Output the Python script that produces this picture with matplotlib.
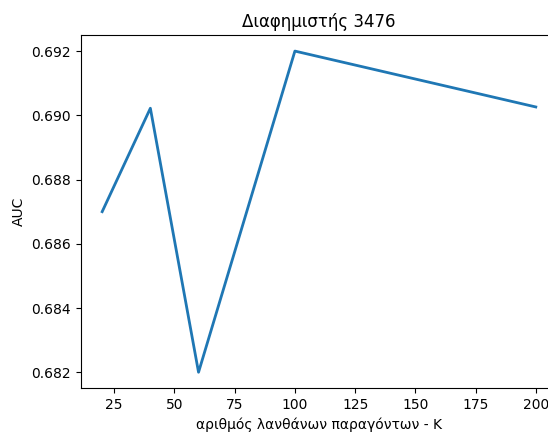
import matplotlib
matplotlib.use('Agg')
import matplotlib.pyplot as plt

k_values = [20, 40, 60, 100, 200]
auc_values = [0.6870, 0.69022, 0.68200, 0.69200, 0.69026]

fig = plt.figure(figsize=(5.48, 4.34), dpi=100)
# the original is cropped at the right edge, so the axes runs past the figure
ax = fig.add_axes([0.1469, 0.1053, 0.8704, 0.814])
ax.plot(k_values, auc_values, color='#1f77b4', linewidth=2)
ax.set_xticks([25, 50, 75, 100, 125, 150, 175, 200])
ax.set_yticks([0.682, 0.684, 0.686, 0.688, 0.690, 0.692])
ax.set_xlabel('αριθμός λανθάνων παραγόντων - K')
ax.set_ylabel('AUC')
ax.set_title('Διαφημιστής 3476')

fig.savefig('out.png', dpi=100)
